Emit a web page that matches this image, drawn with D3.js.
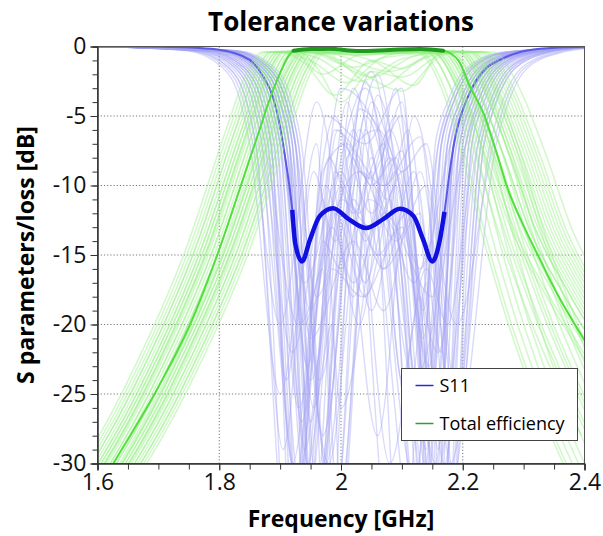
<!DOCTYPE html>
<html>
<head>
<meta charset="utf-8">
<script src="https://cdn.jsdelivr.net/npm/d3@7"></script>
<style>
	body { margin: 0; background: #fff; }
	svg { display: block; font-family: "Segoe UI", "Open Sans", "Noto Sans", sans-serif; }
	.tick text { font-size: 23px; fill: #111; }
	.grid line { stroke: #777; stroke-dasharray: 1.2 2; }
</style>
</head>
<body>
<svg class="chart" width="603" height="536"></svg>
<script>
//* Data: [frequency GHz, dB]
const xTicks = [1.6, 1.8, 2, 2.2, 2.4];
const yTicks = [0, -5, -10, -15, -20, -25, -30];
const seriesNames = ["S11", "Total efficiency"];

const s11Nominal = [
	[1.6, 0], [1.7, -0.02], [1.768, -0.1], [1.8, -0.24], [1.85, -0.96], [1.872, -2.16],
	[1.888, -3.6], [1.9, -5.76], [1.908, -7.9], [1.916, -10.3], [1.92, -11.75], [1.925, -14.2],
	[1.936, -15.47], [1.949, -13.9], [1.965, -12.2], [1.987, -11.63], [2.012, -12.4], [2.041, -13.06],
	[2.07, -12.4], [2.097, -11.68], [2.119, -12.2], [2.135, -13.9], [2.15, -15.47], [2.162, -14.0],
	[2.17, -11.9], [2.179, -8.87], [2.187, -6.71], [2.195, -5.27], [2.2065, -3.83], [2.223, -2.4],
	[2.239, -1.55], [2.261, -0.96], [2.289, -0.47], [2.327, -0.17], [2.4, -0.02]
];
const s11Band = [1.92, 2.17];

const effNominal = [
	[1.55, -35.5], [1.626, -30], [1.7, -24.5], [1.752, -20], [1.8, -14.6], [1.834, -10.2],
	[1.85, -8.1], [1.867, -5.9], [1.878, -4.4], [1.9, -1.9], [1.912, -0.8], [1.922, -0.3],
	[1.95, -0.18], [1.98, -0.17], [2.03, -0.33], [2.08, -0.25], [2.13, -0.18], [2.168, -0.3],
	[2.18, -0.5], [2.193, -1.0], [2.212, -2.9], [2.234, -4.8], [2.256, -7.7], [2.272, -10],
	[2.3, -12.9], [2.321, -14.8], [2.354, -17.7], [2.398, -21], [2.45, -24.5]
];
const effBand = [1.922, 2.168];

//* Tolerance runs, S11
const s11Runs = [
	[[1.6,0],[1.78,-0.3],[1.84,-1.5],[1.87,-4],[1.885,-7],[1.925,-35],[1.97,-9],[2.01,-7],[2.05,-10],[2.09,-8],[2.155,-30],[2.195,-7],[2.215,-4],[2.245,-1.6],[2.3,-0.45],[2.4,-0.05]],
	[[1.6,0],[1.8,-0.3],[1.86,-1.5],[1.89,-4],[1.905,-7],[1.95,-24],[2.02,-6],[2.07,-16],[2.12,-9],[2.165,-22],[2.185,-7],[2.205,-4],[2.235,-1.6],[2.29,-0.45],[2.4,-0.05]],
	[[1.6,0],[1.75,-0.3],[1.81,-1.5],[1.84,-4],[1.855,-7],[1.9,-20],[1.96,-4],[2.03,-20],[2.09,-3],[2.135,-19],[2.165,-7],[2.185,-4],[2.215,-1.6],[2.27,-0.45],[2.4,-0.05]],
	[[1.6,0],[1.82,-0.3],[1.88,-1.5],[1.91,-4],[1.925,-7],[1.96,-32],[2.03,-9],[2.09,-14],[2.14,-10],[2.19,-26],[2.235,-7],[2.255,-4],[2.285,-1.6],[2.34,-0.45],[2.4,-0.05]],
	[[1.6,0],[1.81,-0.3],[1.87,-1.5],[1.9,-4],[1.915,-7],[1.945,-40],[2.0,-12],[2.04,-17],[2.08,-11],[2.14,-33],[2.175,-7],[2.195,-4],[2.225,-1.6],[2.28,-0.45],[2.4,-0.05]],
	[[1.6,0],[1.765,-0.3],[1.825,-1.5],[1.855,-4],[1.87,-7],[1.92,-22],[1.99,-5],[2.05,-19],[2.11,-6],[2.17,-30],[2.215,-7],[2.235,-4],[2.265,-1.6],[2.32,-0.45],[2.4,-0.05]],
	[[1.6,0],[1.825,-0.3],[1.885,-1.5],[1.915,-4],[1.93,-7],[1.97,-28],[2.04,-2.5],[2.12,-24],[2.205,-7],[2.225,-4],[2.255,-1.6],[2.31,-0.45],[2.4,-0.05]],
	[[1.6,0],[1.775,-0.3],[1.835,-1.5],[1.865,-4],[1.88,-7],[1.92,-30],[1.98,-8],[2.02,-12],[2.07,-7],[2.125,-36],[2.155,-7],[2.175,-4],[2.205,-1.6],[2.26,-0.45],[2.4,-0.05]],
	[[1.6,0],[1.805,-0.3],[1.865,-1.5],[1.895,-4],[1.91,-7],[1.95,-19],[2.0,-10],[2.06,-28],[2.12,-5],[2.19,-20],[2.25,-7],[2.27,-4],[2.3,-1.6],[2.355,-0.45],[2.4,-0.1]],
	[[1.6,0],[1.785,-0.3],[1.845,-1.5],[1.875,-4],[1.89,-7],[1.93,-26],[1.985,-13],[2.02,-17],[2.07,-12],[2.15,-18],[2.19,-7],[2.21,-4],[2.24,-1.6],[2.295,-0.45],[2.4,-0.05]],
	[[1.6,0],[1.815,-0.3],[1.875,-1.5],[1.905,-4],[1.92,-7],[1.955,-36],[2.03,-6],[2.13,-38],[2.17,-7],[2.19,-4],[2.22,-1.6],[2.275,-0.45],[2.4,-0.05]],
	[[1.6,0],[1.795,-0.3],[1.855,-1.5],[1.885,-4],[1.9,-7],[1.94,-17],[2.0,-9],[2.04,-14],[2.1,-4],[2.16,-40],[2.2,-7],[2.22,-4],[2.25,-1.6],[2.305,-0.45],[2.4,-0.05]],
	[[1.6,0],[1.82,-0.3],[1.88,-1.5],[1.91,-4],[1.925,-7],[1.965,-24],[2.02,-11],[2.06,-15],[2.11,-12],[2.17,-35],[2.225,-7],[2.245,-4],[2.275,-1.6],[2.33,-0.45],[2.4,-0.05]],
	[[1.6,0],[1.745,-0.3],[1.805,-1.5],[1.835,-4],[1.85,-7],[1.9,-25],[1.96,-7],[1.995,-33],[2.06,-3.5],[2.13,-16],[2.18,-7],[2.2,-4],[2.23,-1.6],[2.285,-0.45],[2.4,-0.05]],
	[[1.6,0],[1.8,-0.3],[1.86,-1.5],[1.89,-4],[1.905,-7],[1.945,-30],[2.01,-4],[2.09,-40],[2.16,-7],[2.18,-4],[2.21,-1.6],[2.265,-0.45],[2.4,-0.05]],
	[[1.6,0],[1.81,-0.3],[1.87,-1.5],[1.9,-4],[1.915,-7],[1.95,-21],[2.02,-14],[2.07,-19],[2.13,-9],[2.19,-28],[2.255,-7],[2.275,-4],[2.305,-1.6],[2.36,-0.45],[2.4,-0.15]],
	[[1.6,0],[1.78,-0.3],[1.84,-1.5],[1.87,-4],[1.885,-7],[1.93,-45],[1.99,-9],[2.03,-12],[2.08,-6],[2.16,-22],[2.205,-7],[2.225,-4],[2.255,-1.6],[2.31,-0.45],[2.4,-0.05]],
	[[1.6,0],[1.82,-0.3],[1.88,-1.5],[1.91,-4],[1.925,-7],[1.96,-18],[2.05,-1.8],[2.14,-27],[2.18,-7],[2.2,-4],[2.23,-1.6],[2.285,-0.45],[2.4,-0.05]],
	[[1.6,0],[1.76,-0.3],[1.82,-1.5],[1.85,-4],[1.865,-7],[1.935,-33],[1.99,-12],[2.04,-18],[2.09,-10],[2.14,-29],[2.165,-7],[2.185,-4],[2.215,-1.6],[2.27,-0.45],[2.4,-0.05]],
	[[1.6,0],[1.805,-0.3],[1.865,-1.5],[1.895,-4],[1.91,-7],[1.95,-27],[2.0,-7],[2.045,-9.5],[2.1,-5],[2.16,-34],[2.195,-7],[2.215,-4],[2.245,-1.6],[2.3,-0.45],[2.4,-0.05]],
	[[1.6,0],[1.755,-0.3],[1.815,-1.5],[1.845,-4],[1.86,-7],[1.915,-38],[1.97,-11],[2.0,-26],[2.08,-8],[2.15,-24],[2.185,-7],[2.205,-4],[2.235,-1.6],[2.29,-0.45],[2.4,-0.05]],
	[[1.6,0],[1.825,-0.3],[1.885,-1.5],[1.915,-4],[1.93,-7],[1.975,-30],[2.04,-5],[2.12,-17],[2.15,-14],[2.185,-31],[2.235,-7],[2.255,-4],[2.285,-1.6],[2.34,-0.45],[2.4,-0.05]],
	[[1.6,0],[1.795,-0.3],[1.855,-1.5],[1.885,-4],[1.9,-7],[1.94,-29],[1.985,-16],[2.035,-18],[2.1,-13],[2.145,-23],[2.175,-7],[2.195,-4],[2.225,-1.6],[2.28,-0.45],[2.4,-0.05]],
	[[1.6,0],[1.815,-0.3],[1.875,-1.5],[1.905,-4],[1.92,-7],[1.955,-34],[2.02,-8],[2.08,-30],[2.14,-16],[2.175,-20],[2.22,-7],[2.24,-4],[2.27,-1.6],[2.325,-0.45],[2.4,-0.05]],
	[[1.6,0],[1.77,-0.3],[1.83,-1.5],[1.86,-4],[1.875,-7],[1.93,-20],[2.04,-3],[2.17,-38],[2.23,-7],[2.25,-4],[2.28,-1.6],[2.335,-0.45],[2.4,-0.05]],
	[[1.6,0],[1.8,-0.3],[1.86,-1.5],[1.89,-4],[1.905,-7],[1.945,-23],[1.995,-6],[2.05,-12],[2.1,-7.5],[2.155,-26],[2.19,-7],[2.21,-4],[2.24,-1.6],[2.295,-0.45],[2.4,-0.05]],
	[[1.6,0],[1.775,-0.3],[1.835,-1.5],[1.865,-4],[1.88,-7],[1.925,-31],[1.975,-10],[2.02,-18],[2.09,-5],[2.16,-36],[2.21,-7],[2.23,-4],[2.26,-1.6],[2.315,-0.45],[2.4,-0.05]],
	[[1.6,0],[1.81,-0.3],[1.87,-1.5],[1.9,-4],[1.915,-7],[1.95,-39],[2.02,-3],[2.075,-11],[2.1,-9],[2.135,-21],[2.165,-7],[2.185,-4],[2.215,-1.6],[2.27,-0.45],[2.4,-0.05]],
	[[1.6,0],[1.79,-0.3],[1.85,-1.5],[1.88,-4],[1.895,-7],[1.935,-38],[1.98,-14],[2.03,-9],[2.08,-13],[2.125,-34],[2.185,-7],[2.205,-4],[2.235,-1.6],[2.29,-0.45],[2.4,-0.05]],
	[[1.6,0],[1.805,-0.3],[1.865,-1.5],[1.895,-4],[1.91,-7],[1.96,-36],[2.01,-8],[2.06,-6],[2.11,-14],[2.165,-42],[2.21,-7],[2.23,-4],[2.26,-1.6],[2.315,-0.45],[2.4,-0.05]],
	[[1.6,0],[1.77,-0.3],[1.83,-1.5],[1.86,-4],[1.875,-7],[1.91,-24],[1.945,-15],[1.98,-40],[2.04,-6],[2.12,-31],[2.175,-7],[2.195,-4],[2.225,-1.6],[2.28,-0.45],[2.4,-0.05]],
	[[1.6,0],[1.82,-0.3],[1.88,-1.5],[1.91,-4],[1.925,-7],[1.97,-44],[2.03,-4.5],[2.08,-8],[2.14,-37],[2.2,-7],[2.22,-4],[2.25,-1.6],[2.305,-0.45],[2.4,-0.05]],
	[[1.6,0],[1.755,-0.3],[1.815,-1.5],[1.845,-4],[1.86,-7],[1.905,-29],[1.955,-9],[1.99,-14],[2.06,-2],[2.15,-32],[2.225,-7],[2.245,-4],[2.275,-1.6],[2.33,-0.45],[2.4,-0.05]],
	[[1.6,0],[1.8,-0.3],[1.86,-1.5],[1.89,-4],[1.905,-7],[1.94,-20],[1.97,-16],[1.99,-37],[2.05,-8],[2.11,-26],[2.14,-17],[2.16,-33],[2.18,-7],[2.2,-4],[2.23,-1.6],[2.285,-0.45],[2.4,-0.05]],
	[[1.6,0],[1.785,-0.3],[1.845,-1.5],[1.875,-4],[1.89,-7],[1.93,-31],[1.99,-6],[2.07,-10],[2.13,-6.5],[2.18,-30],[2.245,-7],[2.265,-4],[2.295,-1.6],[2.35,-0.45],[2.4,-0.1]],
	[[1.6,0],[1.81,-0.3],[1.87,-1.5],[1.9,-4],[1.915,-7],[1.955,-26],[1.985,-20],[2.0,-34],[2.045,-11],[2.1,-15],[2.15,-45],[2.185,-7],[2.205,-4],[2.235,-1.6],[2.29,-0.45],[2.4,-0.05]],
	[[1.6,0],[1.765,-0.3],[1.825,-1.5],[1.855,-4],[1.87,-7],[1.92,-42],[1.975,-5],[2.04,-7],[2.1,-3],[2.145,-28],[2.195,-7],[2.215,-4],[2.245,-1.6],[2.3,-0.45],[2.4,-0.05]],
	[[1.6,0],[1.815,-0.3],[1.875,-1.5],[1.905,-4],[1.92,-7],[1.95,-22],[1.98,-30],[2.03,-13],[2.07,-16],[2.13,-12],[2.175,-39],[2.215,-7],[2.235,-4],[2.265,-1.6],[2.32,-0.45],[2.4,-0.05]],
	[[1.6,0],[1.795,-0.3],[1.855,-1.5],[1.885,-4],[1.9,-7],[1.935,-27],[2.0,-3],[2.06,-6],[2.1,-24],[2.13,-18],[2.16,-29],[2.185,-7],[2.205,-4],[2.235,-1.6],[2.29,-0.45],[2.4,-0.05]],
	[[1.6,0],[1.78,-0.3],[1.84,-1.5],[1.87,-4],[1.885,-7],[1.93,-33],[1.97,-14],[2.0,-16],[2.05,-9],[2.105,-43],[2.16,-7],[2.18,-4],[2.21,-1.6],[2.265,-0.45],[2.4,-0.05]],
	[[1.6,0],[1.83,-0.3],[1.89,-1.5],[1.92,-4],[1.935,-7],[1.985,-35],[2.05,-4],[2.1,-9],[2.14,-7],[2.19,-25],[2.23,-7],[2.25,-4],[2.28,-1.6],[2.335,-0.45],[2.4,-0.05]],
	[[1.6,0],[1.79,-0.3],[1.85,-1.5],[1.88,-4],[1.895,-7],[1.945,-33],[2.0,-11],[2.05,-13],[2.09,-9],[2.165,-33],[2.205,-7],[2.225,-4],[2.255,-1.6],[2.31,-0.45],[2.4,-0.05]]
];

//* Tolerance runs, total efficiency
const effRuns = [
	[[1.51,-35.5],[1.66,-24.5],[1.76,-14.6],[1.827,-5.9],[1.86,-1.9],[1.885,-0.4],[1.98,-0.3],[2.08,-0.5],[2.15,-0.4],[2.19,-3],[2.225,-8],[2.26,-14],[2.3,-20],[2.39,-30]],
	[[1.52,-35.5],[1.67,-24.5],[1.77,-14.6],[1.837,-5.9],[1.87,-1.9],[1.895,-0.4],[2.0,-0.3],[2.15,-0.4],[2.192,-2.9],[2.236,-7.7],[2.28,-13.2],[2.334,-17.7],[2.43,-24.5]],
	[[1.57,-35.5],[1.72,-24.5],[1.82,-14.6],[1.887,-5.9],[1.92,-1.9],[1.945,-0.4],[2.05,-0.3],[2.2,-0.4],[2.242,-2.9],[2.286,-7.7],[2.33,-13.2],[2.384,-17.7],[2.48,-24.5]],
	[[1.535,-35.5],[1.685,-24.5],[1.785,-14.6],[1.852,-5.9],[1.885,-1.9],[1.91,-0.4],[1.96,-0.8],[2.03,-2.5],[2.1,-0.9],[2.18,-0.4],[2.222,-2.9],[2.266,-7.7],[2.31,-13.2],[2.364,-17.7],[2.46,-24.5]],
	[[1.585,-35.5],[1.735,-24.5],[1.835,-14.6],[1.902,-5.9],[1.935,-1.9],[1.96,-0.4],[2.08,-0.3],[2.22,-0.4],[2.262,-2.9],[2.306,-7.7],[2.35,-13.2],[2.404,-17.7],[2.5,-24.5]],
	[[1.555,-35.5],[1.705,-24.5],[1.805,-14.6],[1.872,-5.9],[1.905,-1.9],[1.93,-0.4],[2.04,-0.6],[2.16,-0.4],[2.2,-3],[2.235,-8],[2.27,-14],[2.31,-20],[2.4,-30]],
	[[1.525,-35.5],[1.675,-24.5],[1.775,-14.6],[1.842,-5.9],[1.875,-1.9],[1.9,-0.4],[1.94,-1.2],[1.99,-3.5],[2.05,-1.0],[2.1,-1.6],[2.15,-0.5],[2.21,-0.4],[2.252,-2.9],[2.296,-7.7],[2.34,-13.2],[2.394,-17.7],[2.49,-24.5]],
	[[1.56,-35.5],[1.71,-24.5],[1.81,-14.6],[1.877,-5.9],[1.91,-1.9],[1.935,-0.4],[2.03,-0.3],[2.13,-0.4],[2.17,-3],[2.205,-8],[2.24,-14],[2.28,-20],[2.37,-30]],
	[[1.505,-35.5],[1.655,-24.5],[1.755,-14.6],[1.822,-5.9],[1.855,-1.9],[1.88,-0.4],[1.98,-0.5],[2.08,-1.8],[2.15,-0.6],[2.19,-0.4],[2.232,-2.9],[2.276,-7.7],[2.32,-13.2],[2.374,-17.7],[2.47,-24.5]],
	[[1.575,-35.5],[1.725,-24.5],[1.825,-14.6],[1.892,-5.9],[1.925,-1.9],[1.95,-0.4],[2.1,-0.3],[2.235,-0.4],[2.277,-2.9],[2.321,-7.7],[2.365,-13.2],[2.419,-17.7],[2.515,-24.5]],
	[[1.54,-35.5],[1.69,-24.5],[1.79,-14.6],[1.857,-5.9],[1.89,-1.9],[1.915,-0.4],[2.02,-0.3],[2.155,-0.4],[2.197,-2.9],[2.241,-7.7],[2.285,-13.2],[2.339,-17.7],[2.435,-24.5]],
	[[1.565,-35.5],[1.715,-24.5],[1.815,-14.6],[1.882,-5.9],[1.915,-1.9],[1.94,-0.4],[1.99,-0.9],[2.06,-3.0],[2.13,-1.0],[2.19,-0.4],[2.232,-2.9],[2.276,-7.7],[2.32,-13.2],[2.374,-17.7],[2.47,-24.5]],
	[[1.515,-35.5],[1.665,-24.5],[1.765,-14.6],[1.832,-5.9],[1.865,-1.9],[1.89,-0.4],[2.0,-0.4],[2.17,-0.4],[2.212,-2.9],[2.256,-7.7],[2.3,-13.2],[2.354,-17.7],[2.45,-24.5]],
	[[1.55,-35.5],[1.7,-24.5],[1.8,-14.6],[1.867,-5.9],[1.9,-1.9],[1.925,-0.4],[2.05,-0.3],[2.205,-0.4],[2.247,-2.9],[2.291,-7.7],[2.335,-13.2],[2.389,-17.7],[2.485,-24.5]],
	[[1.58,-35.5],[1.73,-24.5],[1.83,-14.6],[1.897,-5.9],[1.93,-1.9],[1.955,-0.4],[2.02,-1.5],[2.09,-0.5],[2.14,-0.4],[2.18,-3],[2.215,-8],[2.25,-14],[2.29,-20],[2.38,-30]],
	[[1.53,-35.5],[1.68,-24.5],[1.78,-14.6],[1.847,-5.9],[1.88,-1.9],[1.905,-0.4],[2.05,-0.4],[2.225,-0.4],[2.267,-2.9],[2.311,-7.7],[2.355,-13.2],[2.409,-17.7],[2.505,-24.5]],
	[[1.595,-35.5],[1.745,-24.5],[1.845,-14.6],[1.912,-5.9],[1.945,-1.9],[1.97,-0.4],[2.08,-0.3],[2.18,-0.4],[2.222,-2.9],[2.266,-7.7],[2.31,-13.2],[2.364,-17.7],[2.46,-24.5]],
	[[1.545,-35.5],[1.695,-24.5],[1.795,-14.6],[1.862,-5.9],[1.895,-1.9],[1.92,-0.4],[1.97,-2.0],[2.03,-0.6],[2.125,-0.4],[2.165,-3],[2.2,-8],[2.235,-14],[2.275,-20],[2.365,-30]],
	[[1.56,-35.5],[1.71,-24.5],[1.81,-14.6],[1.877,-5.9],[1.91,-1.9],[1.935,-0.5],[1.96,-1.5],[2.0,-4.0],[2.05,-1.8],[2.1,-2.2],[2.17,-0.5],[2.215,-0.4],[2.257,-2.9],[2.301,-7.7],[2.345,-13.2],[2.399,-17.7],[2.495,-24.5]],
	[[1.5,-35.5],[1.65,-24.5],[1.75,-14.6],[1.817,-5.9],[1.85,-1.9],[1.875,-0.4],[2.0,-0.4],[2.195,-0.4],[2.237,-2.9],[2.281,-7.7],[2.325,-13.2],[2.379,-17.7],[2.475,-24.5]],
	[[1.57,-35.5],[1.72,-24.5],[1.82,-14.6],[1.887,-5.9],[1.92,-1.9],[1.945,-0.4],[2.1,-0.4],[2.25,-0.4],[2.292,-2.9],[2.336,-7.7],[2.38,-13.2],[2.434,-17.7],[2.53,-24.5]],
	[[1.53,-35.5],[1.68,-24.5],[1.78,-14.6],[1.847,-5.9],[1.88,-1.9],[1.905,-0.4],[2.0,-0.5],[2.06,-1.2],[2.12,-2.8],[2.165,-0.4],[2.207,-2.9],[2.251,-7.7],[2.295,-13.2],[2.349,-17.7],[2.445,-24.5]],
	[[1.59,-35.5],[1.74,-24.5],[1.84,-14.6],[1.907,-5.9],[1.94,-1.9],[1.965,-0.4],[2.06,-0.3],[2.175,-0.4],[2.215,-3],[2.25,-8],[2.285,-14],[2.325,-20],[2.415,-30]],
	[[1.52,-35.5],[1.67,-24.5],[1.77,-14.6],[1.837,-5.9],[1.87,-1.9],[1.895,-0.4],[2.05,-0.3],[2.24,-0.4],[2.282,-2.9],[2.326,-7.7],[2.37,-13.2],[2.424,-17.7],[2.52,-24.5]],
	[[1.54,-35.5],[1.69,-24.5],[1.79,-14.6],[1.857,-5.9],[1.89,-1.9],[1.915,-0.4],[2.03,-0.5],[2.155,-0.4],[2.195,-2.9],[2.235,-7.7],[2.275,-13.5],[2.32,-19],[2.41,-28]],
	[[1.58,-35.5],[1.73,-24.5],[1.83,-14.6],[1.897,-5.9],[1.93,-1.9],[1.955,-0.4],[2.07,-0.4],[2.185,-0.4],[2.225,-2.9],[2.265,-7.7],[2.305,-13.5],[2.35,-19],[2.44,-28]],
	[[1.51,-35.5],[1.66,-24.5],[1.76,-14.6],[1.827,-5.9],[1.86,-1.9],[1.885,-0.4],[1.95,-1.0],[2.01,-2.6],[2.07,-0.8],[2.2,-0.4],[2.24,-2.9],[2.28,-7.7],[2.32,-13.5],[2.365,-19],[2.455,-28]],
	[[1.55,-35.5],[1.7,-24.5],[1.8,-14.6],[1.867,-5.9],[1.9,-1.9],[1.925,-0.4],[2.04,-0.3],[2.165,-0.4],[2.205,-2.9],[2.245,-7.7],[2.285,-13.5],[2.33,-19],[2.42,-28]],
	[[1.565,-35.5],[1.715,-24.5],[1.815,-14.6],[1.882,-5.9],[1.915,-1.9],[1.94,-0.4],[2.09,-0.5],[2.215,-0.4],[2.255,-2.9],[2.295,-7.7],[2.335,-13.5],[2.38,-19],[2.47,-28]],
	[[1.525,-35.5],[1.675,-24.5],[1.775,-14.6],[1.842,-5.9],[1.875,-1.9],[1.9,-0.4],[2.0,-0.3],[2.14,-0.4],[2.18,-2.9],[2.22,-7.7],[2.26,-13.5],[2.305,-19],[2.395,-28]],
	[[1.59,-35.5],[1.74,-24.5],[1.84,-14.6],[1.907,-5.9],[1.94,-1.9],[1.965,-0.5],[2.03,-1.8],[2.1,-3.2],[2.16,-0.8],[2.195,-0.4],[2.235,-2.9],[2.275,-7.7],[2.315,-13.5],[2.36,-19],[2.45,-28]],
	[[1.495,-35.5],[1.645,-24.5],[1.745,-14.6],[1.812,-5.9],[1.845,-1.9],[1.87,-0.4],[2.0,-0.3],[2.175,-0.4],[2.215,-2.9],[2.255,-7.7],[2.295,-13.5],[2.34,-19],[2.43,-28]],
	[[1.6,-35.5],[1.75,-24.5],[1.85,-14.6],[1.917,-5.9],[1.95,-1.9],[1.975,-0.4],[2.1,-0.3],[2.23,-0.4],[2.272,-2.9],[2.316,-7.7],[2.36,-13.2],[2.414,-17.7],[2.51,-24.5]],
	[[1.558,-35.5],[1.708,-24.5],[1.808,-14.6],[1.875,-5.9],[1.908,-1.9],[1.933,-0.4],[2.02,-0.6],[2.15,-0.4],[2.19,-2.9],[2.23,-7.7],[2.27,-13.5],[2.315,-19],[2.405,-28]],
	[[1.532,-35.5],[1.682,-24.5],[1.782,-14.6],[1.849,-5.9],[1.882,-1.9],[1.907,-0.4],[2.06,-0.4],[2.21,-0.4],[2.25,-2.9],[2.29,-7.7],[2.33,-13.5],[2.375,-19],[2.465,-28]],
	[[1.572,-35.5],[1.722,-24.5],[1.822,-14.6],[1.889,-5.9],[1.922,-1.9],[1.947,-0.4],[1.99,-1.1],[2.05,-2.2],[2.12,-0.7],[2.17,-0.4],[2.21,-2.9],[2.25,-7.7],[2.29,-13.5],[2.335,-19],[2.425,-28]]
];

//* Layout
const svg = d3.select("svg.chart");
const margin = { top: 46.5, right: 18.5, bottom: 72.5, left: 97.5 };
const width = 603 - margin.left - margin.right;
const height = 536 - margin.top - margin.bottom;

const x = d3.scaleLinear().domain([1.6, 2.4]).range([0, width]);
const y = d3.scaleLinear().domain([-30, 0]).range([height, 0]);

const plot = svg.append("g").attr("transform", `translate(${margin.left}, ${margin.top})`);

plot.append("clipPath")
	.attr("id", "clip")
	.append("rect")
	.attr("width", width)
	.attr("height", height);

const line = d3.line()
	.x((d) => x(d[0]))
	.y((d) => y(d[1]))
	.curve(d3.curveMonotoneX);

//* Grid
plot.append("g")
	.attr("class", "grid")
	.selectAll("line")
	.data(xTicks.slice(1, -1))
	.join("line")
	.attr("x1", (d) => x(d))
	.attr("x2", (d) => x(d))
	.attr("y1", 0)
	.attr("y2", height);
plot.append("g")
	.attr("class", "grid")
	.selectAll("line")
	.data(yTicks.slice(1, -1))
	.join("line")
	.attr("x1", 0)
	.attr("x2", width)
	.attr("y1", (d) => y(d))
	.attr("y2", (d) => y(d));

const curves = plot.append("g").attr("clip-path", "url(#clip)");

//* Light tolerance runs
curves.append("g")
	.selectAll("path")
	.data(s11Runs)
	.join("path")
	.attr("d", line)
	.attr("fill", "none")
	.attr("stroke", "#a4a4f2")
	.attr("stroke-opacity", 0.42)
	.attr("stroke-width", 1.4);

curves.append("path")
	.attr("d", line(s11Nominal))
	.attr("fill", "none")
	.attr("stroke", "#5a5ae6")
	.attr("stroke-width", 2);

curves.append("g")
	.selectAll("path")
	.data(effRuns)
	.join("path")
	.attr("d", line)
	.attr("fill", "none")
	.attr("stroke", "#96ee86")
	.attr("stroke-opacity", 0.42)
	.attr("stroke-width", 1.6);

curves.append("path")
	.attr("d", line(effNominal))
	.attr("fill", "none")
	.attr("stroke", "#4fe03a")
	.attr("stroke-width", 2);

//* Bold in-band segments
curves.append("path")
	.attr("d", line(effNominal.filter((d) => d[0] >= effBand[0] && d[0] <= effBand[1])))
	.attr("fill", "none")
	.attr("stroke", "#1f9a1f")
	.attr("stroke-width", 4)
	.attr("stroke-linecap", "round");

curves.append("path")
	.attr("d", line(s11Nominal.filter((d) => d[0] >= s11Band[0] && d[0] <= s11Band[1])))
	.attr("fill", "none")
	.attr("stroke", "#1010e0")
	.attr("stroke-width", 4.5);

//* Frame
plot.append("rect")
	.attr("width", width)
	.attr("height", height)
	.attr("fill", "none")
	.attr("stroke", "#555")
	.attr("stroke-width", 1);

//* Axes
plot.append("g")
	.attr("transform", `translate(0, ${height})`)
	.call(d3.axisBottom(x).tickValues(xTicks).tickFormat((d) => d).tickSize(7).tickPadding(3));
plot.append("g")
	.attr("transform", `translate(0, ${height})`)
	.call(d3.axisBottom(x).tickValues(d3.range(1.6, 2.401, 0.05)).tickFormat("").tickSize(6));

plot.append("g")
	.call(d3.axisLeft(y).tickValues(yTicks).tickFormat((d) => d).tickSize(7).tickPadding(4));
plot.append("g")
	.call(d3.axisLeft(y).tickValues(d3.range(-30, 0.5, 1)).tickFormat("").tickSize(5));

plot.selectAll(".domain").attr("stroke", "#333");
plot.selectAll(".tick line").attr("stroke", "#333");
plot.selectAll("g").attr("font-family", null).attr("font-size", null);

//* Titles
svg.append("text")
	.attr("x", margin.left + width / 2)
	.attr("y", 31)
	.attr("text-anchor", "middle")
	.attr("font-size", 26)
	.attr("font-weight", "bold")
	.text("Tolerance variations");

svg.append("text")
	.attr("x", margin.left + width / 2)
	.attr("y", 527)
	.attr("text-anchor", "middle")
	.attr("font-size", 23)
	.attr("font-weight", "bold")
	.text("Frequency [GHz]");

svg.append("text")
	.attr("transform", `translate(34, ${margin.top + height / 2}) rotate(-90)`)
	.attr("text-anchor", "middle")
	.attr("font-size", 23)
	.attr("font-weight", "bold")
	.text("S parameters/loss [dB]");

//* Legend
const legend = svg.append("g").attr("transform", "translate(401.5, 368.5)");
legend.append("rect")
	.attr("width", 176)
	.attr("height", 72)
	.attr("fill", "#fff")
	.attr("stroke", "#444");
const legendColors = ["#2a2ad8", "#2e9e2e"];
const items = legend.selectAll("g.item")
	.data(seriesNames)
	.enter()
	.append("g")
	.attr("transform", (_, i) => `translate(0, ${17 + i * 38})`);
items.append("line")
	.attr("x1", 14)
	.attr("x2", 32)
	.attr("stroke", (_, i) => legendColors[i])
	.attr("stroke-width", 1.5);
items.append("text")
	.attr("x", 38)
	.attr("y", 6)
	.attr("font-size", 18)
	.text((d) => d);
</script>
</body>
</html>
